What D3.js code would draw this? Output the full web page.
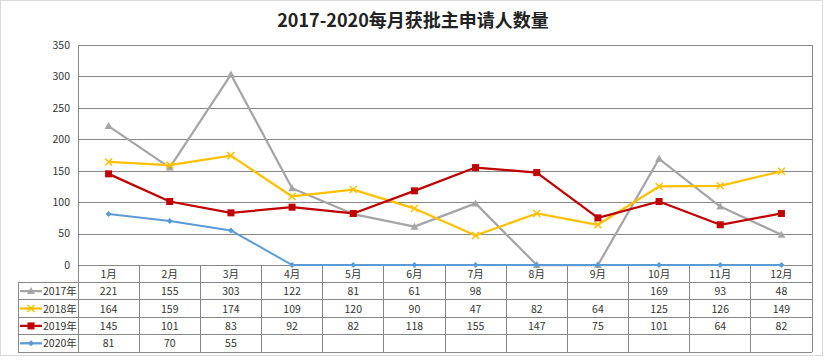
<!DOCTYPE html>
<html><head><meta charset="utf-8">
<script src="https://cdn.jsdelivr.net/npm/d3@7"></script>
<style>
body{margin:0;background:#fff;}
svg text{font-family:"Noto Sans CJK SC","Noto Sans",sans-serif;}
</style></head>
<body><svg id="c" width="826" height="360"></svg>
<script>
const title = "2017-2020每月获批主申请人数量";
const months = ["1月","2月","3月","4月","5月","6月","7月","8月","9月","10月","11月","12月"];
const yTicks = [0,50,100,150,200,250,300,350];
const seriesNames = ["2017年","2018年","2019年","2020年"];
const v2017 = [221,155,303,122,81,61,98,null,null,169,93,48];
const v2018 = [164,159,174,109,120,90,47,82,64,125,126,149];
const v2019 = [145,101,83,92,82,118,155,147,75,101,64,82];
const v2020 = [81,70,55,null,null,null,null,null,null,null,null,null];
const colors = ["#A5A5A5","#FFC000","#C00000","#5B9BD5"];
const markers = ["triangle","cross","square","diamond"];

const series = seriesNames.map((n,i)=>({name:n, values:[v2017,v2018,v2019,v2020][i], color:colors[i], marker:markers[i]}));

const svg = d3.select("#c");
const L=78, R=812, T=45, B=265;
const x = d3.scaleBand().domain(months).range([L,R]).padding(0);
const y = d3.scaleLinear().domain([0,350]).range([B,T]);
const rowH = 17.4;
const gridC = "#878787";

// outer border
svg.append("rect").attr("x",0.5).attr("y",0.5).attr("width",822).attr("height",355).attr("fill","#fff").attr("stroke","#d9d9d9");

svg.append("text").attr("x",413).attr("y",27).attr("text-anchor","middle")
  .attr("font-size",18).attr("font-weight","bold").attr("fill","#222").text(title);

// y axis + gridlines
const yAxis = d3.axisLeft(y).tickValues(yTicks).tickSize(-(R-L)).tickPadding(8);
const ga = svg.append("g").attr("transform",`translate(${L},0)`).call(yAxis);
ga.select(".domain").remove();
ga.selectAll(".tick line").attr("stroke",gridC).attr("stroke-width",1).attr("shape-rendering","crispEdges");
ga.selectAll(".tick text").attr("font-size",10.5).attr("fill","#333");
// vertical axis line
svg.append("line").attr("x1",L).attr("x2",L).attr("y1",T).attr("y2",B).attr("stroke",gridC).attr("shape-rendering","crispEdges");

// data table
const tb = svg.append("g").attr("shape-rendering","crispEdges");
const tableBottom = B + rowH*5;
const tLeft = 18;
// horizontal lines
for(let r=0;r<=5;r++){
  const yy = B + rowH*r;
  tb.append("line").attr("x1", r===0? L : tLeft).attr("x2",R).attr("y1",yy).attr("y2",yy).attr("stroke",gridC);
}
// vertical lines
months.forEach(m=>{
  tb.append("line").attr("x1",x(m)).attr("x2",x(m)).attr("y1",B).attr("y2",tableBottom).attr("stroke",gridC);
});
tb.append("line").attr("x1",R).attr("x2",R).attr("y1",T).attr("y2",tableBottom).attr("stroke",gridC);
tb.append("line").attr("x1",tLeft).attr("x2",tLeft).attr("y1",B+rowH).attr("y2",tableBottom).attr("stroke",gridC);

// month labels
svg.append("g").selectAll("text").data(months).join("text")
  .attr("x",d=>x(d)+x.bandwidth()/2).attr("y",B+rowH/2+4).attr("text-anchor","middle")
  .attr("font-size",10.5).attr("fill","#333").text(d=>d);

function drawMarker(g, type, color, cx, cy){
  if(type==="triangle"){
    g.append("path").attr("d",`M${cx},${cy-4}L${cx+4},${cy+3}L${cx-4},${cy+3}Z`).attr("fill",color);
  } else if(type==="cross"){
    g.append("path").attr("d",`M${cx-3.5},${cy-3.5}L${cx+3.5},${cy+3.5}M${cx-3.5},${cy+3.5}L${cx+3.5},${cy-3.5}`).attr("stroke",color).attr("stroke-width",1.5);
  } else if(type==="square"){
    g.append("rect").attr("x",cx-3.5).attr("y",cy-3.5).attr("width",7).attr("height",7).attr("fill",color);
  } else {
    g.append("path").attr("d",`M${cx},${cy-3}L${cx+3},${cy}L${cx},${cy+3}L${cx-3},${cy}Z`).attr("fill",color);
  }
}

// table rows
series.forEach((s,i)=>{
  const cy = B + rowH*(i+1) + rowH/2;
  const lg = svg.append("g");
  lg.append("line").attr("x1",20).attr("x2",42).attr("y1",cy).attr("y2",cy).attr("stroke",s.color).attr("stroke-width",2.25);
  drawMarker(lg, s.marker, s.color, 31, cy);
  lg.append("text").attr("x",43).attr("y",cy+4).attr("font-size",10.5).attr("fill","#333").text(s.name);
  svg.append("g").selectAll("text").data(s.values.map((v,j)=>({v,m:months[j]})).filter(d=>d.v!==null)).join("text")
    .attr("x",d=>x(d.m)+x.bandwidth()/2).attr("y",cy+4).attr("text-anchor","middle")
    .attr("font-size",10.5).attr("fill","#333").text(d=>d.v);
});

// lines (empty values shown as zero)
const line = d3.line().x(d=>x(d.m)+x.bandwidth()/2).y(d=>y(d.v===null?0:d.v));
series.forEach((s,i)=>{
  const pts = s.values.map((v,j)=>({v,m:months[j]}));
  const g = svg.append("g");
  g.append("path").datum(pts).attr("d",line).attr("fill","none").attr("stroke",s.color)
    .attr("stroke-width", i===3?2:2.25).attr("stroke-linejoin","round");
  pts.forEach(p=>drawMarker(g, s.marker, s.color, x(p.m)+x.bandwidth()/2, y(p.v===null?0:p.v)));
});
</script></body></html>
